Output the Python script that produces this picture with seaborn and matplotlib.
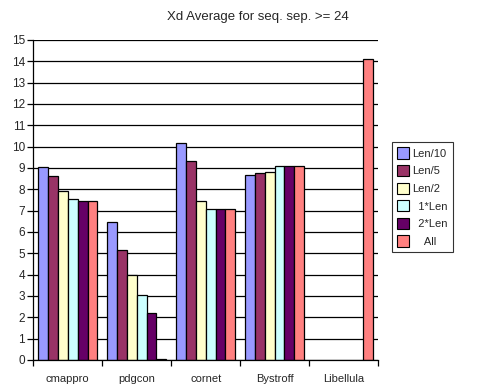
import matplotlib
matplotlib.use("Agg")
import matplotlib.pyplot as plt
import matplotlib.patches as mpatches
import numpy as np
import pandas as pd
import seaborn as sns

methods = ["cmappro", "pdgcon", "cornet", "Bystroff", "Libellula"]
series = ["Len/10", "Len/5", "Len/2", "1*Len", "2*Len", "All"]
legend_labels = ["Len/10", "Len/5", "Len/2", "  1*Len", "  2*Len", "    All"]
colors = ["#9999FF", "#993366", "#FFFFCC", "#CCFFFF", "#660066", "#FF8080"]

len10 = [9.03, 6.48, 10.19, 8.66, np.nan]
len5 = [8.61, 5.14, 9.31, 8.75, np.nan]
len2 = [7.94, 4.00, 7.47, 8.80, np.nan]
len1 = [7.53, 3.03, 7.09, 9.08, np.nan]
len2x = [7.44, 2.19, 7.09, 9.08, np.nan]
all_pairs = [7.44, 0.05, 7.09, 9.08, 14.09]

values = [len10, len5, len2, len1, len2x, all_pairs]
rows = []
for s, vals in zip(series, values):
    for m, v in zip(methods, vals):
        rows.append({"method": m, "series": s, "value": v})
df = pd.DataFrame(rows)

sns.set_style("white")
plt.rcParams["font.family"] = ["Liberation Sans", "DejaVu Sans"]

fig = plt.figure(figsize=(4.84, 3.91), dpi=100)
ax = fig.add_axes([33.3 / 484, 1 - 360 / 391, (378 - 33.3) / 484, 320 / 391])

sns.barplot(data=df, x="method", y="value", hue="series", hue_order=series,
            order=methods, palette=colors, width=0.86, dodge=True,
            edgecolor="black", linewidth=0.9, saturation=1, ax=ax,
            legend=False, errorbar=None)

ax.set_ylim(0, 15)
ax.set_xlim(-0.5, 4.5)
ax.set_yticks(range(0, 16))
ax.yaxis.grid(True, color="black", linewidth=0.9)
ax.set_axisbelow(True)
ax.set_xlabel("")
ax.set_ylabel("")

# ticks between categories, labels at centres
ax.set_xticks(np.arange(-0.5, 5.0, 1.0))
ax.set_xticklabels([])
ax.set_xticks(range(len(methods)), minor=True)
ax.set_xticklabels(methods, minor=True, fontsize=8)
ax.tick_params(axis="x", which="major", direction="out", length=4, width=0.9, color="black", bottom=True)
ax.tick_params(axis="x", which="minor", length=0, pad=10)
ax.tick_params(axis="y", direction="out", length=4, width=0.9, color="black", left=True,
               labelsize=8.5, pad=2)

for side in ["top", "right"]:
    ax.spines[side].set_visible(False)
for side in ["left", "bottom"]:
    ax.spines[side].set_color("black")
    ax.spines[side].set_linewidth(0.9)

handles = [mpatches.Patch(facecolor=c, edgecolor="black", linewidth=0.8) for c in colors]
leg = ax.legend(handles, legend_labels, loc="upper left", bbox_to_anchor=(1.04, 0.68),
                fontsize=8, frameon=True, fancybox=False, edgecolor="black",
                handlelength=1.1, handleheight=1.2, handletextpad=0.3,
                labelspacing=0.55, borderpad=0.45, borderaxespad=0)
leg.get_frame().set_linewidth(0.8)

fig.text(258 / 484, 1 - 17 / 391, "Xd Average for seq. sep. >= 24", ha="center", va="center",
         fontsize=9.5)

fig.savefig("out.png", dpi=100)
